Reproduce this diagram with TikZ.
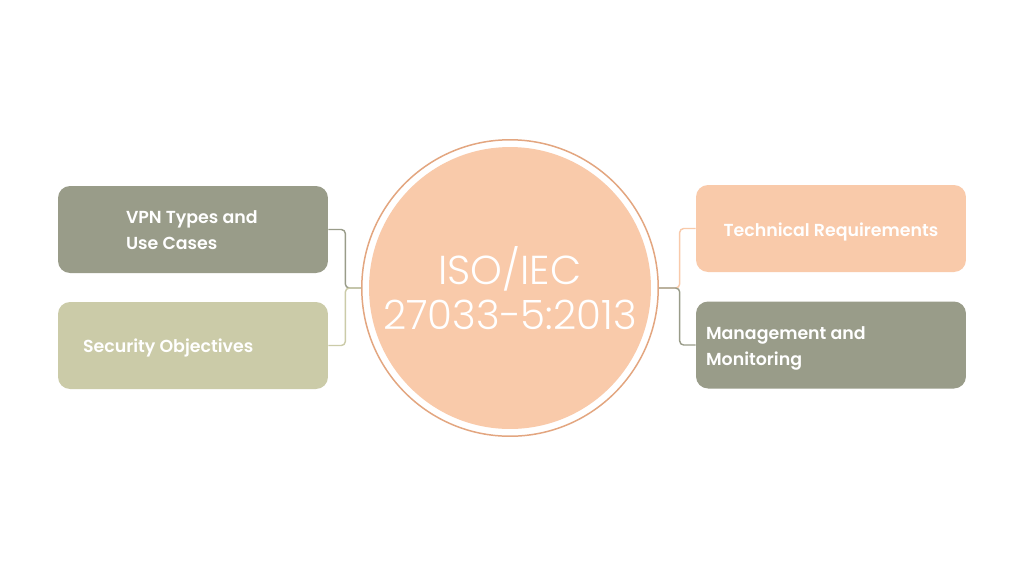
\documentclass[tikz,border=0pt]{standalone}
\usepackage{fontspec}
\usetikzlibrary{positioning,calc}
\newfontfamily\boxfont{Poppins SemiBold}
\newfontfamily\hubfont{Poppins Light}
\definecolor{sagecolor}{RGB}{153,156,137}
\definecolor{olivecolor}{RGB}{203,203,168}
\definecolor{peachcolor}{RGB}{249,202,170}
\definecolor{ringcolor}{RGB}{227,166,128}

\begin{document}
\begin{tikzpicture}[x=0.02cm, y=-0.02cm,
    box/.style={rounded corners=0.24cm, minimum width=5.4cm, minimum height=1.74cm, inner sep=0pt},
    boxtext/.style={text=white, inner sep=0pt, align=left, font=\boxfont\fontsize{9.9}{14.8}\selectfont},
    link/.style={line width=0.8pt, rounded corners=0.08cm}]
        % canvas
        \fill[white] (0,0) rectangle (1024,576);
        \useasboundingbox (0,0) rectangle (1024,576);

        % centre circle with thin ring
        \node[circle, draw=ringcolor, line width=0.85pt, minimum size=5.93cm] (ring) at (510,288) {};
        \node[circle, fill=peachcolor, minimum size=5.64cm, text=white, align=center,
              font=\hubfont\fontsize{23}{25.6}\selectfont] (hub) at (510,288) {ISO/IEC\\27033-5:2013};

        % left side
        \node[box, fill=sagecolor] (vpn) at (193,229.5) {};
        \node[boxtext, anchor=west] (vpntxt) at ($(vpn.west)+(68,1)$) {VPN Types and\\Use Cases};
        \node[box, fill=olivecolor] (secobj) at (193,345.5) {};
        \node[boxtext, anchor=west] (sectxt) at ($(secobj.west)+(25,2)$) {Security Objectives};

        % right side
        \node[box, fill=peachcolor] (tech) at (831,228.5) {};
        \node[boxtext] (techtxt) at ($(tech)+(0,3)$) {Technical Requirements};
        \node[box, fill=sagecolor] (mgmt) at (831,345) {};
        \node[boxtext, anchor=west] (mgmttxt) at ($(mgmt.west)+(10,3)$) {Management and\\Monitoring};

        % connectors
        \draw[link, sagecolor] (vpn.east) -- ++(17,0) |- (ring.west);
        \draw[link, olivecolor] (secobj.east) -- ++(17,0) |- (ring.west);
        \draw[link, peachcolor] (tech.west) -- ++(-16,0) |- (ring.east);
        \draw[link, sagecolor] (mgmt.west) -- ++(-16,0) |- (ring.east);
      \end{tikzpicture}
\end{document}
